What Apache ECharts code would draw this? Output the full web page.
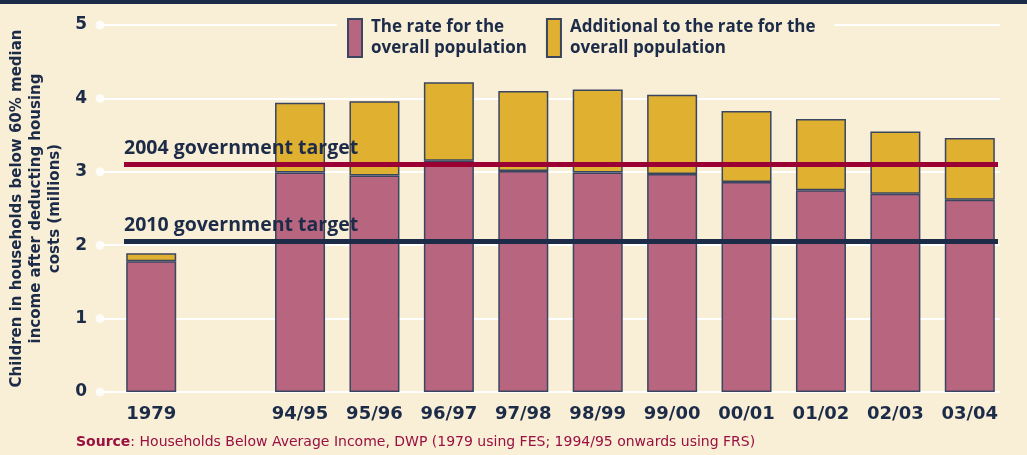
<!DOCTYPE html>
<html>
<head>
<meta charset="utf-8">
<script src="https://cdn.jsdelivr.net/npm/echarts@6/dist/echarts.min.js"></script>
<style>
html, body { margin: 0; padding: 0; background: #f9eed6; }
#main { width: 1027px; height: 455px; }
</style>
</head>
<body>
<div id="main"></div>
<script>
// categories (one empty slot between 1979 and 94/95)
var categories = ['1979', '', '94/95', '95/96', '96/97', '97/98', '98/99', '99/00', '00/01', '01/02', '02/03', '03/04'];
// millions of children, the overall population rate
var rateValues = [1.78, '-', 2.99, 2.95, 3.15, 3.01, 2.99, 2.97, 2.86, 2.75, 2.70, 2.62];
// extra on top of the overall rate
var additionalValues = [0.11, '-', 0.95, 1.01, 1.07, 1.09, 1.13, 1.08, 0.97, 0.97, 0.85, 0.84];
var yTicks = [0, 1, 2, 3, 4, 5];
var target2004 = 3.1;
var target2010 = 2.05;

var navy = '#1c2b48';
var font = 'Open Sans';
var wide = 'DejaVu Sans';

var option = {
	backgroundColor: '#f9eed6',
	animation: false,
	textStyle: { fontFamily: font },
	graphic: [{
		type: 'rect',
		left: 0, top: 0,
		shape: { width: 1027, height: 4 },
		style: { fill: navy }
	}],
	title: {
		left: 76,
		top: 435,
		padding: 0,
		text: '{b|Source}: Households Below Average Income, DWP (1979 using FES; 1994/95 onwards using FRS)',
		textStyle: {
			fontFamily: wide,
			fontSize: 14,
			fontWeight: 'normal',
			color: '#9a1040',
			rich: {
				b: { fontFamily: wide, fontSize: 14, fontWeight: 'bold', color: '#9a1040' }
			}
		}
	},
	legend: {
		left: 337,
		top: 12,
		padding: [5, 19, 4, 10],
		itemGap: 19,
		itemWidth: 14,
		itemHeight: 38,
		icon: 'rect',
		backgroundColor: '#f9eed6',
		data: ['The rate for the\noverall population', 'Additional to the rate for the\noverall population'],
		textStyle: {
			fontFamily: font,
			fontSize: 17,
			fontWeight: 'bold',
			color: navy,
			lineHeight: 21,
			padding: [0, 0, 0, 4]
		}
	},
	grid: [
		{ left: 114, right: 20, top: 25, bottom: 63, outerBoundsMode: 'none' },
		{ left: 124, right: 29, top: 25, bottom: 63, outerBoundsMode: 'none' },
		{ left: 100, right: 27, top: 25, bottom: 63, outerBoundsMode: 'none' }
	],
	xAxis: [{
		type: 'category',
		gridIndex: 0,
		data: categories,
		axisLine: { show: false },
		axisTick: { show: false },
		axisLabel: {
			interval: 0,
			margin: 13,
			fontFamily: wide,
			fontSize: 18,
			fontWeight: 'bold',
			color: navy
		}
	}, {
		type: 'value', gridIndex: 1, min: 0, max: 1, show: false
	}, {
		type: 'value', gridIndex: 2, min: 0, max: 1, show: false
	}],
	yAxis: [{
		type: 'value', gridIndex: 0, min: 0, max: 5, interval: 1, show: false
	}, {
		type: 'value', gridIndex: 1, min: 0, max: 5, interval: 1, show: false
	}, {
		type: 'value',
		gridIndex: 2,
		min: 0,
		max: 5,
		interval: 1,
		name: 'Children in households below 60% median\nincome after deducting housing\ncosts (millions)',
		nameLocation: 'middle',
		nameGap: 35,
		nameMoveOverlap: false,
		nameTextStyle: {
			fontFamily: wide,
			fontSize: 15,
			fontWeight: 'bold',
			color: navy,
			lineHeight: 19,
			align: 'center'
		},
		axisLine: { show: false },
		axisTick: { show: false },
		axisLabel: {
			margin: 13,
			fontFamily: wide,
			fontSize: 17,
			fontWeight: 'bold',
			color: navy
		},
		splitLine: {
			show: true,
			lineStyle: { color: '#ffffff', width: 2 }
		}
	}],
	series: [{
		name: 'The rate for the\noverall population',
		type: 'bar',
		xAxisIndex: 0,
		yAxisIndex: 0,
		stack: 'total',
		barWidth: 50,
		itemStyle: { color: '#b8657f', borderColor: '#3a4660', borderWidth: 1.5 },
		data: rateValues,
		z: 3
	}, {
		name: 'Additional to the rate for the\noverall population',
		type: 'bar',
		xAxisIndex: 0,
		yAxisIndex: 0,
		stack: 'total',
		barWidth: 50,
		itemStyle: { color: '#e0b030', borderColor: '#3a4660', borderWidth: 1.5 },
		data: additionalValues,
		z: 3
	}, {
		// government targets
		type: 'line',
		xAxisIndex: 1,
		yAxisIndex: 1,
		data: [],
		z: 5,
		markLine: {
			silent: true,
			symbol: 'none',
			data: [{
				yAxis: target2004,
				lineStyle: { color: '#9a0033', width: 5, type: 'solid' },
				label: { formatter: '2004 government target' }
			}, {
				yAxis: target2010,
				lineStyle: { color: navy, width: 5, type: 'solid' },
				label: { formatter: '2010 government target' }
			}],
			label: {
				show: true,
				position: 'insideStartTop',
				distance: [0, 6],
				fontFamily: font,
				fontSize: 19.5,
				fontWeight: 'bold',
				color: navy
			}
		}
	}, {
		// dots at the start of each grid line
		type: 'scatter',
		xAxisIndex: 2,
		yAxisIndex: 2,
		symbol: 'circle',
		symbolSize: 9,
		itemStyle: { color: '#ffffff' },
		data: yTicks.map(function (t) { return [0, t]; }),
		z: 2
	}]
};

echarts.init(document.getElementById('main')).setOption(option);
</script>
</body>
</html>
